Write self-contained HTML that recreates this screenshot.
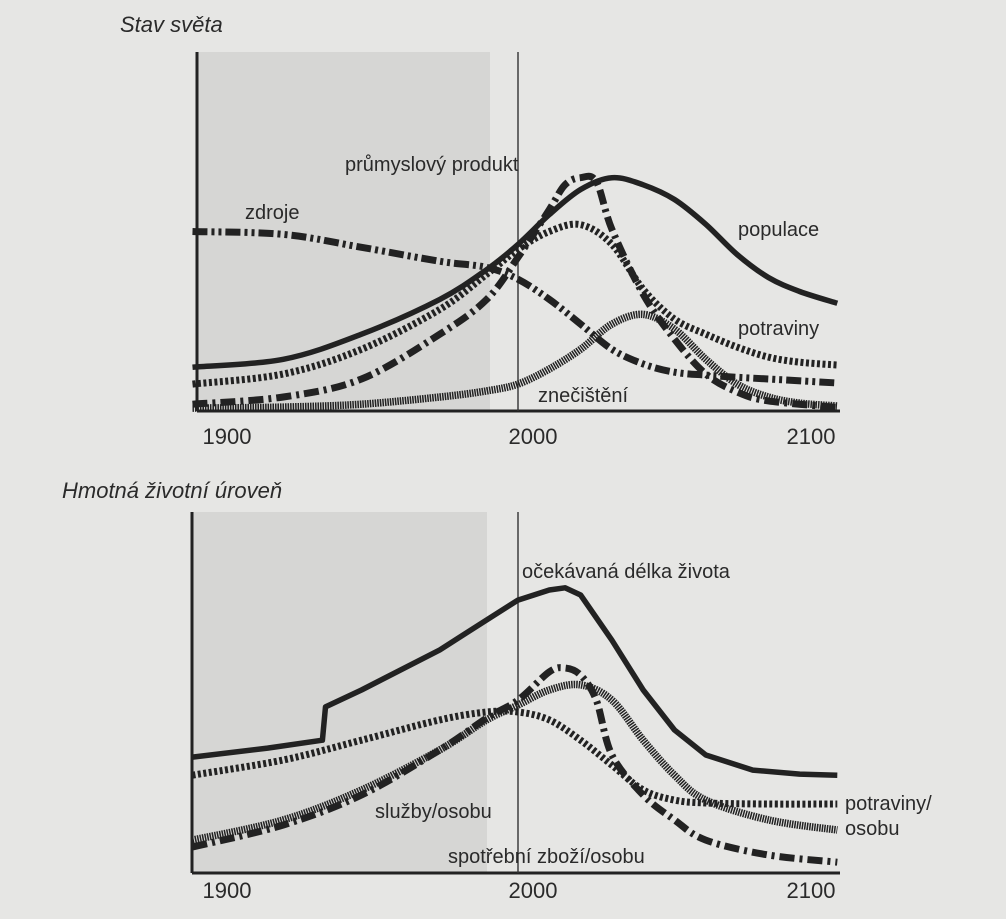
<!DOCTYPE html>
<html><head><meta charset="utf-8"><style>
html,body{margin:0;padding:0;background:#e6e6e4;}
svg{display:block;font-family:"Liberation Sans",sans-serif;}
</style></head><body>
<svg id="c" width="1006" height="919" viewBox="0 0 1006 919">
<rect x="0" y="0" width="1006" height="919" fill="#e6e6e4"/>
<g id="top"></g>
<g id="bot"></g>
</svg>
<script>
// ---- Top chart data (values 0-100) ----
const topPopYears=[1896,1925,1950,1975,1990,2000,2010,2020,2030,2040,2050,2060,2070,2080,2090,2102];
const topPopVals=[12.2,14.4,21.4,31.1,39.4,46.4,54.7,61.7,65,63,58.9,52,43.6,37.2,33.3,30];
const topIndYears=[1896,1925,1950,1975,1990,2000,2010,2015,2020,2025,2030,2040,2050,2060,2070,2080,2102];
const topIndVals=[1.9,3.9,8.9,21.4,31.1,42.8,56.1,63,65,63.9,50.6,32.5,20,10.3,5.3,2.8,1];
const topFoodYears=[1896,1925,1950,1975,1990,2000,2010,2020,2030,2040,2050,2060,2070,2080,2090,2102];
const topFoodVals=[7.5,10.3,17.2,28.3,38.1,45,50,51.9,46.4,33.9,25.6,21.4,17.8,15,13.6,12.8];
const topResYears=[1896,1925,1950,1975,1990,2000,2010,2020,2030,2040,2050,2060,2070,2080,2102];
const topResVals=[50,49.2,45.6,41.7,40,36.7,31.1,24.2,17.2,13.1,10.8,10,9.4,8.9,7.8];
const topPolYears=[1896,1925,1950,1975,1990,2000,2010,2020,2030,2040,2050,2060,2070,2080,2090,2102];
const topPolVals=[0.8,1.1,1.9,3.9,5.6,7.5,11.7,17.2,24.2,26.9,22.8,14.4,7.5,3.9,2.2,1.4];
// ---- Bottom chart data ----
const botLifeYears=[1896,1920,1937.5,1938.5,1950,1975,1990,2000,2010,2015,2020,2030,2040,2050,2060,2075,2090,2102];
const botLifeVals=[32.1,34.6,36.8,46,50.7,61.8,70.1,75.6,78.4,79,77,64.5,50.7,39.6,32.7,28.5,27.4,27.1];
const botFoodYears=[1896,1925,1950,1975,1990,2000,2010,2020,2030,2040,2050,2060,2080,2102];
const botFoodVals=[27.1,31.3,36.8,42.4,44.6,44.6,42.4,36.8,29.9,23,20.2,19.4,19.1,19.1];
const botServYears=[1896,1925,1950,1975,1990,2000,2010,2020,2030,2040,2050,2060,2080,2102];
const botServVals=[9.1,14.7,23,34.1,42.4,46.5,50.7,52.1,47.9,36.8,27.1,20.2,14.7,11.9];
const botGoodsYears=[1896,1925,1950,1975,1990,2000,2010,2015,2020,2025,2030,2040,2050,2060,2080,2102];
const botGoodsVals=[7.2,13.3,21.6,34.1,42.9,47.9,55.7,56.8,54.8,47.9,32.7,21.6,14.7,9.1,5,3];
const xTicks=[1900,2000,2100];

const NS="http://www.w3.org/2000/svg";
function mk(parent,tag,attrs){const e=document.createElementNS(NS,tag);for(const k in attrs)e.setAttribute(k,attrs[k]);parent.appendChild(e);return e;}
function xS(yr){return 518+(yr-2000)*3.13;}

function chart(g,axX,top,base,shadeR,titleTxt,titleX,titleY,tickY){
  const yS=v=>base-v/100*(base-top);
  const sh=mk(g,'rect',{x:axX,y:top,width:shadeR-axX,height:base-top,fill:'#d6d6d4'});
  
  
  const yl=mk(g,'line',{x1:axX,y1:top,x2:axX,y2:base,stroke:'#222','stroke-width':3});
  
  
  const xl=mk(g,'line',{x1:axX,y1:base,x2:840,y2:base,stroke:'#222','stroke-width':3});
  
  
  const vl=mk(g,'line',{x1:xS(2000),y1:top,x2:xS(2000),y2:base,stroke:'#333','stroke-width':1.4});
  
  
  xTicks.forEach((t,i)=>{
    const tx=mk(g,'text',{x:i==0?xS(t)+22:(i==2?xS(t)-20:xS(t)+15),y:tickY,'font-size':22,fill:'#2a2a2a','text-anchor':'middle'});
    tx.textContent=t;
    
    
  });
  const tt=mk(g,'text',{x:titleX,y:titleY,'font-size':22,'font-style':'italic',fill:'#2a2a2a'});
  tt.textContent=titleTxt;
  
  
  return yS;
}
const styles={
  solid:{dash:'none',w:5.5},
  dotted:{dash:'3 2.5',w:7},
  dashdot:{dash:'15 5 3 5',w:7},
  dashdotdot:{dash:'15 4 3 4 3 4',w:7},
  hatch:{dash:'1.5 1',w:7.5}
};
function series(g,yS,years,vals,style,name,linear){
  const st=styles[style];
  const P=years.map((yr,i)=>[xS(yr),yS(vals[i])]);
  let d='M'+P[0][0].toFixed(1)+','+P[0][1].toFixed(1);
  for(let i=0;i<P.length-1;i++){
    if(linear){d+='L'+P[i+1][0].toFixed(1)+','+P[i+1][1].toFixed(1);continue;}
    const p0=P[Math.max(0,i-1)],p1=P[i],p2=P[i+1],p3=P[Math.min(P.length-1,i+2)];
    const c1=[p1[0]+(p2[0]-p0[0])/6,p1[1]+(p2[1]-p0[1])/6];
    const c2=[p2[0]-(p3[0]-p1[0])/6,p2[1]-(p3[1]-p1[1])/6];
    d+='C'+c1[0].toFixed(1)+','+c1[1].toFixed(1)+' '+c2[0].toFixed(1)+','+c2[1].toFixed(1)+' '+p2[0].toFixed(1)+','+p2[1].toFixed(1);
  }
  const p=mk(g,'path',{d:d,fill:'none',stroke:'#222','stroke-width':st.w,'stroke-dasharray':st.dash,'stroke-linejoin':'round'});
  
  
}
function label(g,txt,x,y,name){
  const t=mk(g,'text',{x:x,y:y,'font-size':20,fill:'#2a2a2a'});
  t.textContent=txt;
  
  
}
const gT=document.getElementById('top'), gB=document.getElementById('bot');
const yT=chart(gT,197,52,411,490,'Stav světa',120,32,444);
series(gT,yT,topPolYears,topPolVals,'hatch','line-pollution');
series(gT,yT,topResYears,topResVals,'dashdotdot','line-resources');
series(gT,yT,topFoodYears,topFoodVals,'dotted','line-food');
series(gT,yT,topIndYears,topIndVals,'dashdot','line-industrial-output');
series(gT,yT,topPopYears,topPopVals,'solid','line-population');
label(gT,'průmyslový produkt',345,171,'label-industrial-output');
label(gT,'zdroje',245,219,'label-resources');
label(gT,'populace',738,236,'label-population');
label(gT,'potraviny',738,335,'label-food');
label(gT,'znečištění',538,402,'label-pollution');

const yB=chart(gB,192,512,873,487,'Hmotná životní úroveň',62,498,898);
series(gB,yB,botServYears,botServVals,'hatch','line-services-per-capita');
series(gB,yB,botFoodYears,botFoodVals,'dotted','line-food-per-capita');
series(gB,yB,botGoodsYears,botGoodsVals,'dashdot','line-consumer-goods-per-capita');
series(gB,yB,botLifeYears,botLifeVals,'solid','line-life-expectancy',true);
label(gB,'očekávaná délka života',522,578,'label-life-expectancy');
label(gB,'služby/osobu',375,818,'label-services-per-capita');
label(gB,'spotřební zboží/osobu',448,863,'label-consumer-goods-per-capita');
label(gB,'potraviny/',845,810,'label-food-per-capita-1');
label(gB,'osobu',845,835,'label-food-per-capita-2');
</script>
</body></html>
